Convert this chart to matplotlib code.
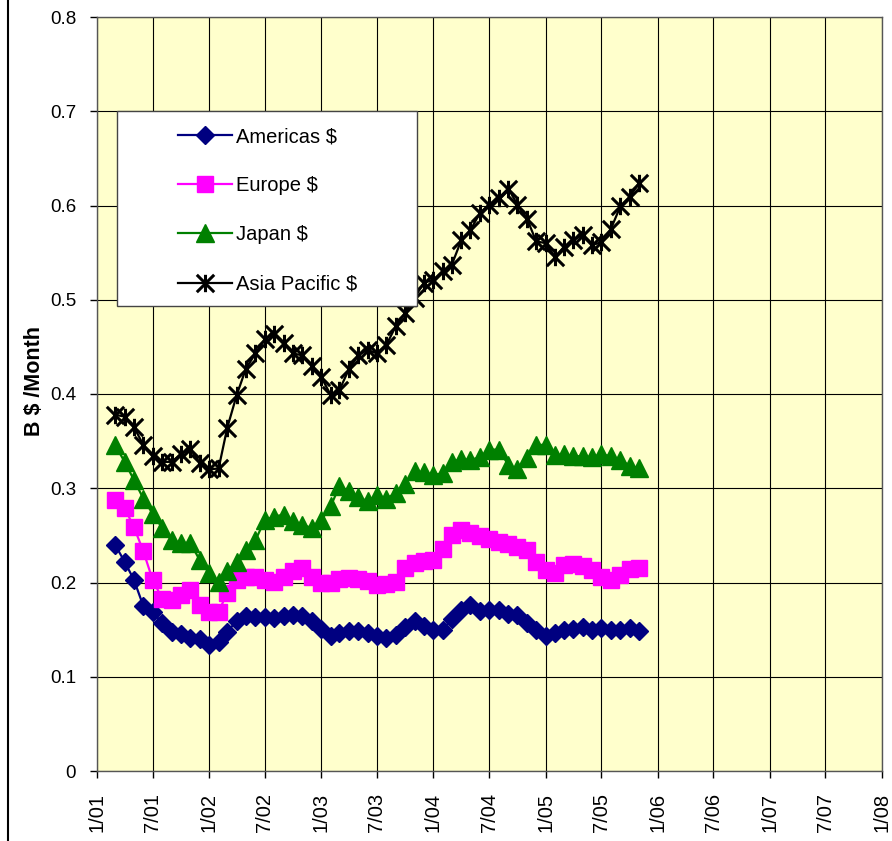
import matplotlib

matplotlib.use("Agg")
import matplotlib.dates as mdates
import matplotlib.pyplot as plt
import pandas as pd
from matplotlib.lines import Line2D
from matplotlib.patches import Rectangle
from matplotlib.path import Path

# monthly series, Mar 2001 .. Nov 2005
MONTHS = pd.date_range("2001-03-01", periods=57, freq="MS")

AMERICAS = [0.240, 0.222, 0.203, 0.175, 0.169, 0.157, 0.147, 0.145, 0.141, 0.140,
            0.134, 0.137, 0.148, 0.159, 0.164, 0.163, 0.163,
            0.162, 0.164, 0.165, 0.164, 0.159, 0.151, 0.143, 0.146, 0.149, 0.149,
            0.146, 0.143, 0.141, 0.144, 0.153, 0.159, 0.154, 0.150, 0.150, 0.161,
            0.171, 0.176, 0.170, 0.171, 0.171, 0.167, 0.166, 0.157, 0.150, 0.143,
            0.146, 0.150, 0.151, 0.153, 0.150, 0.152, 0.150, 0.150, 0.152, 0.149]
EUROPE = [0.288, 0.279, 0.259, 0.233, 0.203, 0.183, 0.181, 0.187, 0.192, 0.176,
          0.169, 0.169, 0.189, 0.203, 0.206, 0.206, 0.203,
          0.201, 0.206, 0.212, 0.215, 0.206, 0.199, 0.200, 0.204, 0.205, 0.204,
          0.202, 0.197, 0.198, 0.201, 0.215, 0.221, 0.223, 0.224,
          0.236, 0.250, 0.256, 0.252, 0.249, 0.246, 0.243, 0.241, 0.238, 0.234,
          0.222, 0.213, 0.210, 0.219, 0.220, 0.217, 0.213, 0.206, 0.203, 0.208,
          0.214, 0.215]
JAPAN = [0.346, 0.328, 0.309, 0.289, 0.273, 0.258, 0.245, 0.242, 0.242, 0.224,
         0.210, 0.201, 0.212, 0.222, 0.235, 0.245, 0.266,
         0.270, 0.272, 0.265, 0.261, 0.258, 0.266, 0.281, 0.302, 0.297, 0.291,
         0.286, 0.293, 0.289, 0.295, 0.304, 0.318, 0.317, 0.314,
         0.316, 0.328, 0.331, 0.330, 0.333, 0.341, 0.341, 0.325, 0.320, 0.332,
         0.346, 0.346, 0.335, 0.336, 0.334, 0.334, 0.333, 0.336, 0.334, 0.330,
         0.324, 0.321]
ASIA_PAC = [0.378, 0.376, 0.365, 0.346, 0.334, 0.328, 0.328, 0.336, 0.342, 0.327,
            0.320, 0.321, 0.364, 0.399, 0.427, 0.443, 0.458, 0.464, 0.454, 0.443,
            0.441, 0.430, 0.418, 0.399, 0.404, 0.426, 0.441, 0.447, 0.443, 0.452,
            0.472, 0.486, 0.502, 0.518, 0.521, 0.530, 0.537, 0.563, 0.574, 0.592,
            0.601, 0.608, 0.618, 0.601, 0.586, 0.562, 0.560, 0.545, 0.556, 0.563,
            0.569, 0.558, 0.561, 0.575, 0.599, 0.609, 0.624]

# Excel-style star: X plus a vertical bar
STAR = Path([(-1, -1), (1, 1), (-1, 1), (1, -1), (0, -1), (0, 1)],
            [Path.MOVETO, Path.LINETO] * 3)

SERIES = [
    ("Americas $", AMERICAS, "#000080", "D", 9.5),
    ("Europe $", EUROPE, "#FF00FF", "s", 11.5),
    ("Japan $", JAPAN, "#008000", "^", 13),
    ("Asia Pacific $", ASIA_PAC, "#000000", STAR, 12.5),
]

plt.rcParams.update({"font.family": ["Liberation Sans", "DejaVu Sans"]})

fig = plt.figure(figsize=(8.92, 8.41), dpi=100)
ax = fig.add_axes([97 / 892, 1 - 771 / 841, 785 / 892, 754 / 841])
ax.set_facecolor("#FFFFCC")

for name, vals, col, mk, ms in SERIES:
    mew = 2.2 if mk is STAR else 1.0
    ax.plot(MONTHS, vals, color=col, lw=1.6, marker=mk, ms=ms, mfc=col, mec=col,
            mew=mew, label=name, zorder=3)

ax.set_ylim(0, 0.8)
ax.set_yticks([i / 10 for i in range(9)])
ax.set_yticklabels(["0"] + [f"{i / 10:.1f}" for i in range(1, 9)])
ax.set_xlim(pd.Timestamp("2001-01-01"), pd.Timestamp("2008-01-01"))
ax.xaxis.set_major_locator(mdates.MonthLocator(bymonth=(1, 7)))
ax.xaxis.set_major_formatter(mdates.DateFormatter("%-m/%y"))
ax.tick_params(axis="both", direction="out", length=5, width=1, colors="black",
               labelsize=13.5, pad=10)
ax.tick_params(axis="x", labelrotation=90, labelsize=14.5, pad=11)
ax.grid(True, color="black", lw=0.8)
ax.set_axisbelow(True)
for s in ax.spines.values():
    s.set_color("#555555")
    s.set_linewidth(1)

ax.set_ylabel("B $ /Month", fontsize=15.5, fontweight="bold")
ax.yaxis.set_label_coords(-0.066, 0.517)

# legend box drawn separately so the padding matches
fig.add_artist(Rectangle((117.5 / 892, 1 - 306 / 841), 299.5 / 892, 195 / 841,
                         transform=fig.transFigure, facecolor="white",
                         edgecolor="#444444", lw=1, zorder=4))
fig.legend(loc="upper left", bbox_to_anchor=(178 / 892, 1 - 127 / 841),
           bbox_transform=fig.transFigure, frameon=False, fontsize=14.5,
           borderpad=0, borderaxespad=0, handlelength=2.7, handletextpad=0.2,
           labelspacing=1.5)

# outer chart border at left
fig.add_artist(Line2D([8 / 892, 8 / 892], [0, 1], transform=fig.transFigure,
                      color="black", lw=1.5))

fig.savefig("out.png", dpi=100)
